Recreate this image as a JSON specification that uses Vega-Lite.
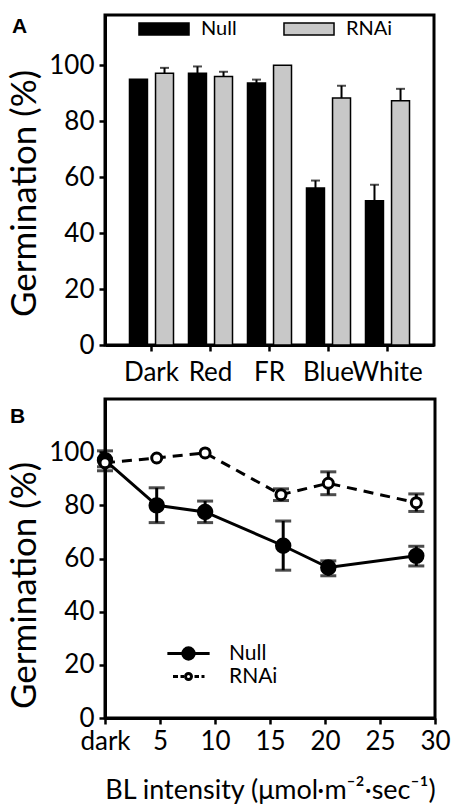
{
  "$schema": "https://vega.github.io/schema/vega-lite/v6.json",
  "padding": {"left": 6, "top": 13, "right": 0, "bottom": 0},
  "spacing": 10,
  "resolve": {"scale": {"color": "independent", "fill": "independent", "size": "independent", "x": "independent", "y": "independent"}, "legend": {"color": "independent", "fill": "independent"}},
  "config": {
    "font": "Lato",
    "view": {"stroke": "black", "strokeWidth": 3},
    "axis": {"domainColor": "black", "domainWidth": 3, "tickColor": "black", "tickWidth": 2.5, "tickSize": 6, "labelFont": "Lato", "labelFontSize": 26, "labelColor": "black", "labelFlush": false, "labelOverlap": false, "titleFont": "Lato", "titleFontSize": 35, "titleFontWeight": "normal", "titleColor": "black", "grid": false},
    "legend": {"labelFont": "Lato", "labelColor": "black"},
    "title": {"font": "Liberation Sans", "fontSize": 21, "fontWeight": "bold", "color": "black", "anchor": "start", "frame": "group"}
  },
  "vconcat": [
    {
      "width": 329,
      "height": 330,
      "title": {"text": "A", "dx": -93, "offset": -22},
      "data": {"values": [
        {"light": "Dark", "line": "Null", "mean": 95},
        {"light": "Dark", "line": "RNAi", "mean": 97.2, "upper": 99.1},
        {"light": "Red", "line": "Null", "mean": 97.2, "upper": 99.6},
        {"light": "Red", "line": "RNAi", "mean": 96, "upper": 97.7},
        {"light": "FR", "line": "Null", "mean": 93.7, "upper": 94.9},
        {"light": "FR", "line": "RNAi", "mean": 100},
        {"light": "Blue", "line": "Null", "mean": 56.1, "upper": 58.8},
        {"light": "Blue", "line": "RNAi", "mean": 88.3, "upper": 92.7},
        {"light": "White", "line": "Null", "mean": 51.6, "upper": 57.3},
        {"light": "White", "line": "RNAi", "mean": 87.3, "upper": 91.6}
      ]},
      "encoding": {
        "x": {"field": "light", "type": "nominal", "sort": ["Dark", "Red", "FR", "Blue", "White"], "scale": {"paddingInner": 0.254, "paddingOuter": 0.415}, "axis": {"title": null, "labelAngle": 0, "labelPadding": 8}},
        "xOffset": {"field": "line", "type": "nominal", "sort": ["Null", "RNAi"], "scale": {"paddingInner": 0.31, "paddingOuter": 0}}
      },
      "layer": [
        {
          "mark": {"type": "bar", "stroke": "black", "strokeWidth": 1.5},
          "encoding": {
            "y": {"field": "mean", "type": "quantitative", "scale": {"domain": [0, 118], "nice": false}, "axis": {"title": "Germination (%)", "values": [0, 20, 40, 60, 80, 100], "labelPadding": 5, "titlePadding": 6, "titleY": 178}},
            "fill": {"field": "line", "type": "nominal", "scale": {"domain": ["Null", "RNAi"], "range": ["black", "#c8c8c8"]}, "legend": {"orient": "none", "legendX": 49, "legendY": 4, "direction": "horizontal", "title": null, "symbolType": "M-4.17,-1H4.17V1H-4.17Z", "symbolSize": 144, "symbolStrokeColor": "black", "symbolStrokeWidth": 1.5, "labelFontSize": 20, "labelOffset": 27, "columnPadding": 43}}
          }
        },
        {
          "mark": {"type": "rule", "strokeWidth": 2, "color": "black"},
          "encoding": {
            "y": {"field": "upper", "type": "quantitative"},
            "y2": {"field": "mean"}
          }
        },
        {
          "mark": {"type": "tick", "orient": "horizontal", "size": 9, "thickness": 2, "color": "black"},
          "encoding": {
            "y": {"field": "upper", "type": "quantitative"}
          }
        }
      ]
    },
    {
      "width": 330,
      "height": 319,
      "title": {"text": "B", "dx": -95, "offset": -28},
      "data": {"values": [
        {"line": "Null", "bl": 0, "mean": 97, "lower": 93, "upper": 100.5},
        {"line": "Null", "bl": 4.7, "mean": 80, "lower": 73.5, "upper": 86.6},
        {"line": "Null", "bl": 9.1, "mean": 77.5, "lower": 73.5, "upper": 81.6},
        {"line": "Null", "bl": 16.2, "mean": 64.8, "lower": 55.6, "upper": 74.1},
        {"line": "Null", "bl": 20.3, "mean": 56.6, "lower": 53.5, "upper": 59.1},
        {"line": "Null", "bl": 28.3, "mean": 61, "lower": 57.2, "upper": 64.6},
        {"line": "RNAi", "bl": 0, "mean": 96, "lower": 94.5, "upper": 97.5},
        {"line": "RNAi", "bl": 4.7, "mean": 97.8},
        {"line": "RNAi", "bl": 9.1, "mean": 99.7},
        {"line": "RNAi", "bl": 16, "mean": 84, "lower": 81.8, "upper": 86.2},
        {"line": "RNAi", "bl": 20.3, "mean": 88.3, "lower": 84, "upper": 92.6},
        {"line": "RNAi", "bl": 28.3, "mean": 81, "lower": 77.7, "upper": 84.3}
      ]},
      "encoding": {
        "x": {"field": "bl", "type": "quantitative", "scale": {"domain": [0, 30], "nice": false}, "axis": {"title": "BL intensity (μmol·m⁻²·sec⁻¹)", "titleFontSize": 27, "values": [0, 5, 10, 15, 20, 25, 30], "labelExpr": "datum.value === 0 ? 'dark' : datum.label", "labelPadding": 4, "titlePadding": 23}}
      },
      "layer": [
        {
          "transform": [{"filter": "datum.line === 'Null'"}],
          "mark": {"type": "line", "strokeWidth": 3},
          "encoding": {
            "y": {"field": "mean", "type": "quantitative", "scale": {"domain": [0, 120], "nice": false}, "axis": {"title": "Germination (%)", "values": [0, 20, 40, 60, 80, 100], "labelPadding": 5, "titlePadding": 6, "titleY": 186}},
            "color": {"field": "line", "type": "nominal", "scale": {"domain": ["Null", "RNAi"], "range": ["black", "black"]}, "legend": {"orient": "none", "legendX": 73, "legendY": 244, "title": null, "symbolSize": 400, "labelFontSize": 21, "labelOffset": 30, "rowPadding": -3, "encode": {"symbols": {"update": {"shape": {"signal": "datum.value === 'Null' ? 'M-3.15,0L3.15,0M-0.85,0A0.85,0.85 0 1,0 0.85,0A0.85,0.85 0 1,0 -0.85,0Z' : 'M-3.1,0L-2.1,0M-1.6,0L-0.9,0M1.2,0L2.1,0M2.6,0L3.2,0M-0.6,0A0.6,0.6 0 1,0 0.6,0A0.6,0.6 0 1,0 -0.6,0Z'"}, "fill": {"signal": "datum.value === 'Null' ? 'black' : 'white'"}, "stroke": {"value": "black"}, "strokeWidth": {"value": 3}, "opacity": {"value": 1}}}}}}
          }
        },
        {
          "transform": [{"filter": "datum.line === 'RNAi'"}],
          "mark": {"type": "line", "strokeWidth": 3, "strokeDash": [10, 7]},
          "encoding": {
            "y": {"field": "mean", "type": "quantitative"},
            "color": {"field": "line", "type": "nominal"}
          }
        },
        {
          "mark": {"type": "rule", "strokeWidth": 3, "color": "black"},
          "encoding": {
            "y": {"field": "upper", "type": "quantitative"},
            "y2": {"field": "lower"}
          }
        },
        {
          "mark": {"type": "tick", "orient": "horizontal", "size": 16, "thickness": 3, "color": "black"},
          "encoding": {"y": {"field": "upper", "type": "quantitative"}}
        },
        {
          "mark": {"type": "tick", "orient": "horizontal", "size": 16, "thickness": 3, "color": "black"},
          "encoding": {"y": {"field": "lower", "type": "quantitative"}}
        },
        {
          "mark": {"type": "point", "shape": "circle", "opacity": 1, "stroke": "black", "strokeWidth": 3},
          "encoding": {
            "y": {"field": "mean", "type": "quantitative"},
            "fill": {"field": "line", "type": "nominal", "scale": {"domain": ["Null", "RNAi"], "range": ["black", "white"]}, "legend": null},
            "size": {"field": "line", "type": "nominal", "scale": {"domain": ["Null", "RNAi"], "range": [180, 100]}, "legend": null}
          }
        }
      ]
    }
  ]
}
